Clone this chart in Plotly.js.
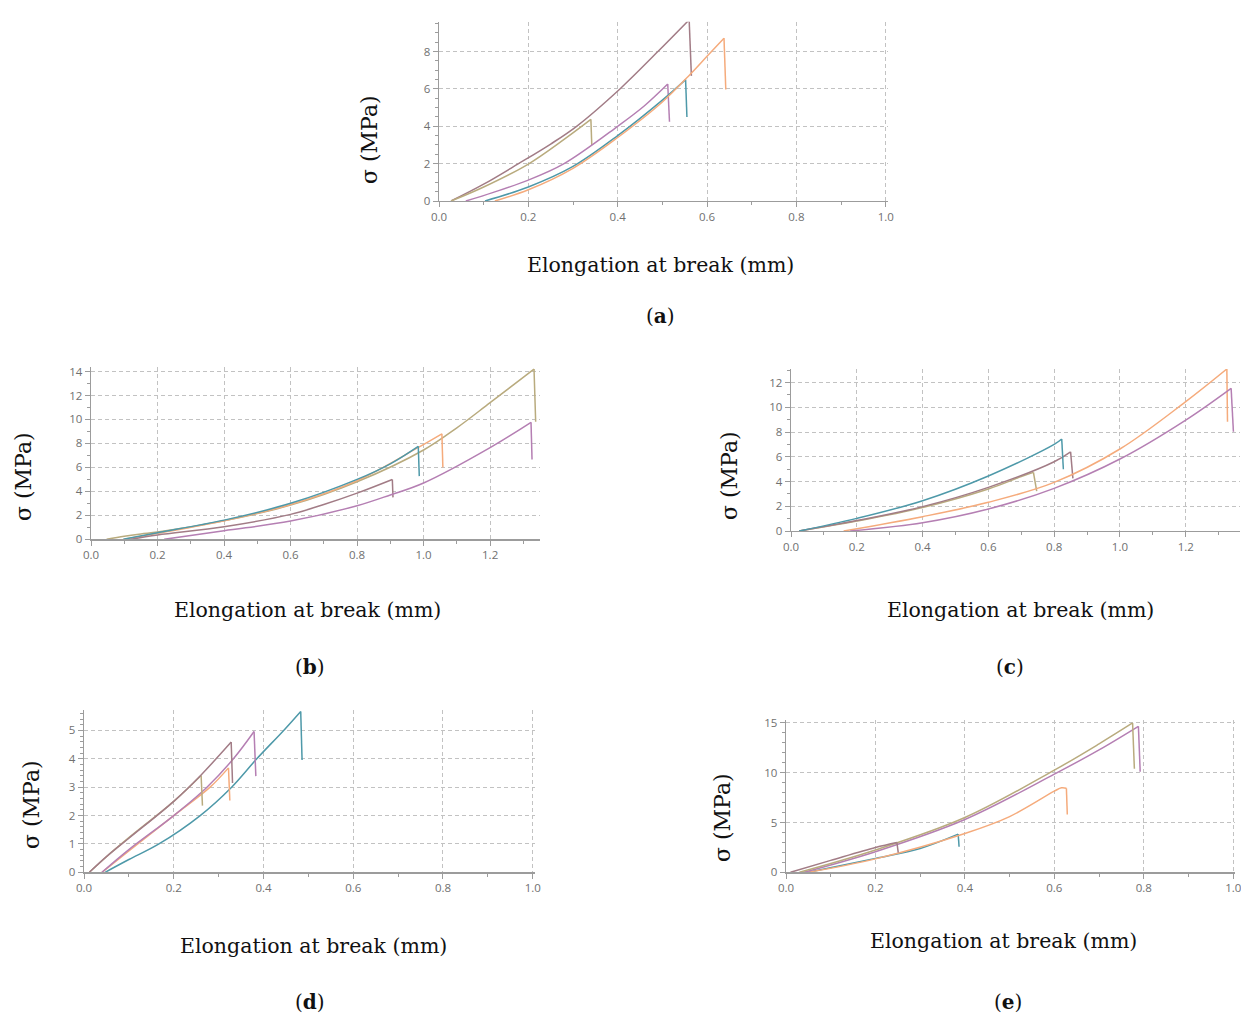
<!DOCTYPE html>
<html>
<head>
<meta charset="utf-8">
<script src="https://cdn.plot.ly/plotly-3.0.1.min.js"></script>
<style>html,body{margin:0;padding:0;background:#fff;}#chart{width:1241px;height:1016px;}</style>
</head>
<body>
<div id="chart"></div>
<script>
// ---------- data (elongation mm, stress MPa) ----------
// panel (a)
const aBrownX  = [0.027, 0.1, 0.178, 0.25, 0.308, 0.405, 0.49, 0.56, 0.565];
const aBrownY  = [0, 0.9, 2.0, 3.05, 4.0, 6.0, 8.0, 9.7, 6.7];
const aOliveX  = [0.027, 0.1, 0.2, 0.28, 0.34, 0.342];
const aOliveY  = [0, 0.75, 1.98, 3.3, 4.37, 3.0];
const aPurpleX = [0.06, 0.12, 0.2, 0.28, 0.4, 0.46, 0.512, 0.516];
const aPurpleY = [0, 0.45, 1.12, 2.0, 4.0, 5.1, 6.26, 4.24];
const aTealX   = [0.103, 0.2, 0.3, 0.4, 0.5, 0.552, 0.555];
const aTealY   = [0, 0.75, 1.85, 3.5, 5.4, 6.5, 4.5];
const aOrangeX = [0.125, 0.2, 0.3, 0.4, 0.5, 0.563, 0.6, 0.638, 0.642];
const aOrangeY = [0, 0.6, 1.75, 3.4, 5.3, 6.8, 7.75, 8.72, 5.97];
// panel (b)
const bOliveX  = [0.047, 0.1, 0.15, 0.2, 0.4, 0.6, 0.8, 1.0, 1.1, 1.2, 1.332, 1.337];
const bOliveY  = [0, 0.25, 0.45, 0.6, 1.55, 2.85, 4.8, 7.45, 9.3, 11.4, 14.2, 9.8];
const bTealX   = [0.097, 0.2, 0.4, 0.6, 0.8, 0.9, 0.984, 0.987];
const bTealY   = [0, 0.55, 1.6, 3.0, 5.0, 6.3, 7.76, 5.27];
const bOrangeX = [0.1, 0.2, 0.4, 0.6, 0.8, 0.98, 1.055, 1.058];
const bOrangeY = [0, 0.5, 1.55, 2.9, 4.9, 7.6, 8.8, 6.0];
const bBrownX  = [0.12, 0.2, 0.4, 0.6, 0.7, 0.8, 0.906, 0.908];
const bBrownY  = [0, 0.36, 1.05, 2.08, 2.9, 3.85, 4.99, 3.5];
const bPurpleX = [0.22, 0.4, 0.6, 0.8, 0.9, 1.0, 1.2, 1.323, 1.326];
const bPurpleY = [0, 0.72, 1.52, 2.8, 3.7, 4.7, 7.65, 9.76, 6.65];
// panel (c)
const cTealX   = [0.025, 0.2, 0.4, 0.6, 0.8, 0.823, 0.828];
const cTealY   = [0, 1.02, 2.45, 4.45, 7.0, 7.44, 5.0];
const cBrownX  = [0.025, 0.2, 0.4, 0.6, 0.8, 0.85, 0.857];
const cBrownY  = [0, 0.84, 1.97, 3.53, 5.6, 6.4, 4.26];
const cOliveX  = [0.025, 0.2, 0.4, 0.6, 0.7, 0.737, 0.747];
const cOliveY  = [0, 0.8, 1.9, 3.4, 4.4, 4.74, 3.23];
const cOrangeX = [0.16, 0.4, 0.6, 0.8, 1.0, 1.2, 1.325, 1.327];
const cOrangeY = [0, 1.16, 2.32, 3.93, 6.63, 10.46, 13.1, 8.84];
const cPurpleX = [0.18, 0.4, 0.6, 0.8, 1.0, 1.2, 1.338, 1.345];
const cPurpleY = [0, 0.67, 1.78, 3.45, 5.82, 8.97, 11.54, 8.03];
// panel (d)
const dOliveX  = [0.012, 0.05, 0.1, 0.2, 0.261, 0.264];
const dOliveY  = [0, 0.55, 1.22, 2.5, 3.41, 2.35];
const dBrownX  = [0.012, 0.05, 0.1, 0.2, 0.262, 0.328, 0.331];
const dBrownY  = [0, 0.55, 1.2, 2.5, 3.45, 4.59, 3.15];
const dOrangeX = [0.04, 0.1, 0.2, 0.281, 0.322, 0.325];
const dOrangeY = [0, 0.75, 2.0, 3.0, 3.68, 2.53];
const dPurpleX = [0.04, 0.1, 0.2, 0.274, 0.333, 0.379, 0.383];
const dPurpleY = [0, 0.8, 2.0, 3.0, 4.0, 4.96, 3.39];
const dTealX   = [0.047, 0.1, 0.167, 0.259, 0.329, 0.385, 0.445, 0.483, 0.486];
const dTealY   = [0, 0.45, 1.0, 2.0, 3.0, 4.0, 5.0, 5.67, 3.96];
// panel (e)
const eBrownX  = [0.01, 0.1, 0.2, 0.248, 0.251];
const eBrownY  = [0, 1.2, 2.5, 3.0, 1.97];
const eOliveX  = [0.03, 0.2, 0.4, 0.6, 0.7, 0.775, 0.779];
const eOliveY  = [0, 2.24, 5.5, 10.26, 12.9, 15.0, 10.4];
const ePurpleX = [0.04, 0.2, 0.4, 0.6, 0.7, 0.788, 0.792];
const ePurpleY = [0, 2.07, 5.3, 9.86, 12.3, 14.67, 10.1];
const eTealX   = [0.05, 0.2, 0.3, 0.385, 0.387];
const eTealY   = [0, 1.4, 2.4, 3.84, 2.57];
const eOrangeX = [0.05, 0.2, 0.4, 0.5, 0.6, 0.616, 0.627, 0.629];
const eOrangeY = [0, 1.35, 3.9, 5.6, 8.15, 8.49, 8.45, 5.81];

// ---------- styling ----------
const COL = {brown:'#a27c86', olive:'#b9ab7e', purple:'#b57fb3', teal:'#4e99a9', orange:'#f5ab7c'};
const SERIF = 'DejaVu Serif, Liberation Serif, serif';
const SANS = 'Open Sans, Noto Sans, sans-serif';
const W = 1241, H = 1016;
const fx = p => p / W, fy = p => 1 - p / H;

const panels = [
  {box:[439, 887.5, 21.7, 201],  xr:[0,1.004], yr:[0,9.6],  yd:2, ym:0.5, yl:[370,140], xl:[660,265], tg:[660,316], tag:'a',
   curves:[[aBrownX,aBrownY,'brown'],[aOliveX,aOliveY,'olive'],[aPurpleX,aPurpleY,'purple'],[aTealX,aTealY,'teal'],[aOrangeX,aOrangeY,'orange']]},
  {box:[91, 540, 366.7, 539.3],  xr:[0,1.35],  yr:[0,14.4], yd:2, ym:1,   yl:[23,477],  xl:[307,610], tg:[310,667], tag:'b',
   curves:[[bOliveX,bOliveY,'olive'],[bOrangeX,bOrangeY,'orange'],[bTealX,bTealY,'teal'],[bBrownX,bBrownY,'brown'],[bPurpleX,bPurpleY,'purple']]},
  {box:[791, 1240, 369, 531],    xr:[0,1.365], yr:[0,13.1], yd:2, ym:1,   yl:[729,476], xl:[1020,610],tg:[1010,667],tag:'c',
   curves:[[cOliveX,cOliveY,'olive'],[cBrownX,cBrownY,'brown'],[cTealX,cTealY,'teal'],[cOrangeX,cOrangeY,'orange'],[cPurpleX,cPurpleY,'purple']]},
  {box:[84, 534.5, 710, 872.3],  xr:[0,1.004], yr:[0,5.72], yd:1, ym:0.2, yl:[31,805],  xl:[313,946], tg:[310,1002],tag:'d',
   curves:[[dTealX,dTealY,'teal'],[dOrangeX,dOrangeY,'orange'],[dPurpleX,dPurpleY,'purple'],[dOliveX,dOliveY,'olive'],[dBrownX,dBrownY,'brown']]},
  {box:[786, 1235, 720, 872.3],  xr:[0,1.004], yr:[0,15.3], yd:5, ym:1,   yl:[722,818], xl:[1003,941],tg:[1008,1002],tag:'e',
   curves:[[eTealX,eTealY,'teal'],[eOrangeX,eOrangeY,'orange'],[ePurpleX,ePurpleY,'purple'],[eOliveX,eOliveY,'olive'],[eBrownX,eBrownY,'brown']]}
];

const AX = '#9c9c9c';
const traces = [];
const layout = {
  width: W, height: H, margin:{l:0,r:0,t:0,b:0},
  paper_bgcolor:'#fff', plot_bgcolor:'rgba(0,0,0,0)',
  showlegend:false, annotations:[]
};

panels.forEach((p, i) => {
  const n = i + 1, m = i + 6;
  const xs = n === 1 ? '' : n, ys = xs;
  const xd = [fx(p.box[0]), fx(p.box[1])];
  const yd = [fy(p.box[3]), fy(p.box[2])];
  const common = {
    showline:true, linecolor:AX, linewidth:1.3, zeroline:false,
    ticks:'outside', ticklen:5, tickwidth:1, tickcolor:AX,
    showgrid:true, gridcolor:'#c2c2c2', gridwidth:1, griddash:'4px,3px',
    tickfont:{family:SANS, size:11.5, color:'#707070'}, fixedrange:true, tickmode:'linear', tick0:0,
    ticklabeloverflow:'allow'
  };
  layout['xaxis'+xs] = Object.assign({}, common, {
    domain:xd, range:p.xr, anchor:'y'+ys, dtick:0.2, tickformat:'.1f',
    minor:{ticks:'outside', ticklen:3, tickcolor:AX, dtick:0.1, tick0:0, showgrid:false}
  });
  layout['yaxis'+ys] = Object.assign({}, common, {
    domain:yd, range:p.yr, anchor:'x'+xs, dtick:p.yd, tickformat:'d',
    minor:{ticks:'outside', ticklen:3, tickcolor:AX, dtick:p.ym, tick0:0, showgrid:false}
  });
  // overlay axes giving the inward half of each tick (crossing ticks)
  const ov = {
    showline:false, zeroline:false, showgrid:false, showticklabels:false, fixedrange:true,
    ticks:'inside', ticklen:5, tickwidth:1, tickcolor:AX, tickmode:'linear', tick0:0
  };
  layout['xaxis'+m] = Object.assign({}, ov, {domain:xd, range:p.xr, overlaying:'x'+xs, anchor:'y'+m, dtick:0.2,
    minor:{ticks:'inside', ticklen:3, tickcolor:AX, dtick:0.1, tick0:0, showgrid:false}});
  layout['yaxis'+m] = Object.assign({}, ov, {domain:yd, range:p.yr, overlaying:'y'+ys, anchor:'x'+m, dtick:p.yd,
    minor:{ticks:'inside', ticklen:3, tickcolor:AX, dtick:p.ym, tick0:0, showgrid:false}});

  p.curves.forEach(([X, Y, c]) => {
    traces.push({x:X.slice(0, -1), y:Y.slice(0, -1), type:'scatter', mode:'lines',
      line:{color:COL[c], width:1.5, shape:'spline', smoothing:1.0},
      xaxis:'x'+xs, yaxis:'y'+ys, hoverinfo:'skip', cliponaxis:false});
    traces.push({x:X.slice(-2), y:Y.slice(-2), type:'scatter', mode:'lines',
      line:{color:COL[c], width:1.5},
      xaxis:'x'+xs, yaxis:'y'+ys, hoverinfo:'skip', cliponaxis:false});
  });

  layout.annotations.push(
    {text:'σ (MPa)', x:fx(p.yl[0]), y:fy(p.yl[1]), xref:'paper', yref:'paper', showarrow:false,
     textangle:-90, xanchor:'center', yanchor:'middle', font:{family:SERIF, size:22, color:'#111'}},
    {text:'Elongation at break (mm)', x:fx(p.xl[0]), y:fy(p.xl[1]), xref:'paper', yref:'paper', showarrow:false,
     xanchor:'center', yanchor:'middle', font:{family:SERIF, size:20.5, color:'#111'}},
    {text:'(<b>' + p.tag + '</b>)', x:fx(p.tg[0]), y:fy(p.tg[1]), xref:'paper', yref:'paper', showarrow:false,
     xanchor:'center', yanchor:'middle', font:{family:SERIF, size:20, color:'#111'}}
  );
});

Plotly.newPlot('chart', traces, layout, {staticPlot:true, displayModeBar:false});
</script>
</body>
</html>
